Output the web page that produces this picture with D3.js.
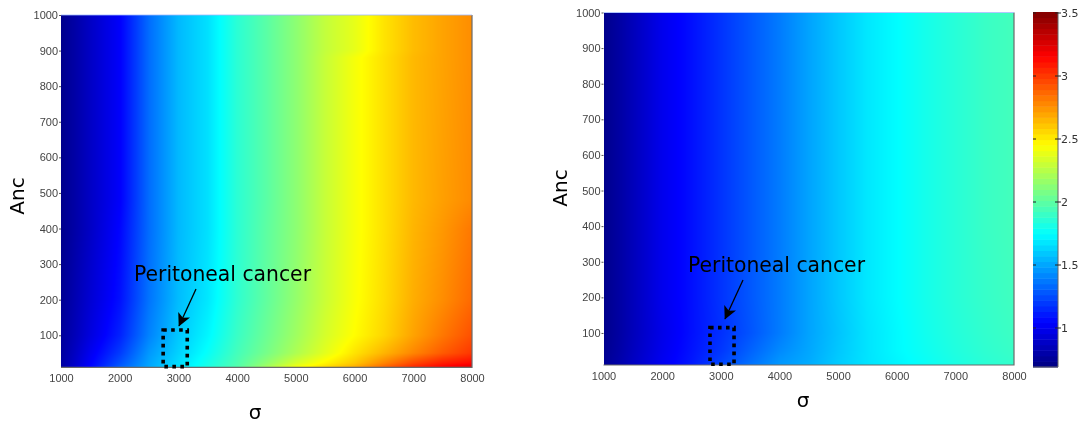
<!DOCTYPE html>
<html><head><meta charset="utf-8">
<script src="https://cdn.jsdelivr.net/npm/d3@7/dist/d3.min.js"></script>
<style>
html,body{margin:0;padding:0;background:#fff;overflow:hidden}
#wrap{position:relative;width:1079px;height:421px;overflow:hidden}
canvas,svg{position:absolute;left:0;top:0}
canvas{filter:blur(.5px)}
svg{filter:blur(.35px)}
</style></head><body><div id="wrap"></div>
<script>
const sigmaGrid=[1000,1250,1500,2000,2500,3000,3500,4000,4500,5000,5500,6000,6500,7000,7500,8000];
const ancGrid=[1000,900,880,480,400,200,100,50,22,10];
const leftValues=[
[.72,.80,.88,1.03,1.34,1.55,1.66,1.86,1.99,2.13,2.28,2.38,2.52,2.63,2.70,2.76],
[.72,.80,.88,1.03,1.34,1.55,1.66,1.86,1.99,2.13,2.28,2.38,2.52,2.63,2.70,2.76],
[.72,.80,.88,1.03,1.34,1.55,1.66,1.86,1.99,2.13,2.29,2.42,2.53,2.64,2.70,2.76],
[.72,.80,.88,1.03,1.34,1.55,1.66,1.86,1.99,2.13,2.29,2.42,2.53,2.64,2.71,2.77],
[.72,.80,.88,1.05,1.34,1.55,1.66,1.86,2.00,2.13,2.29,2.42,2.53,2.65,2.73,2.82],
[.74,.83,.92,1.08,1.36,1.56,1.68,1.87,2.01,2.15,2.30,2.43,2.54,2.67,2.76,2.86],
[.76,.85,.95,1.13,1.40,1.59,1.72,1.90,2.04,2.18,2.33,2.45,2.56,2.70,2.82,2.93],
[.77,.88,1.00,1.20,1.46,1.62,1.76,1.93,2.07,2.22,2.37,2.52,2.65,2.78,2.90,3.00],
[.78,.90,1.03,1.26,1.49,1.65,1.80,1.96,2.14,2.33,2.47,2.60,2.78,2.95,3.07,3.13],
[.78,.92,1.05,1.30,1.50,1.66,1.82,1.97,2.20,2.42,2.55,2.68,2.88,3.05,3.16,3.25]];
const rightValues=[
[.72,.78,.85,.99,1.08,1.18,1.28,1.38,1.49,1.59,1.68,1.74,1.80,1.85,1.90,1.93],
[.72,.78,.85,.99,1.08,1.18,1.28,1.38,1.49,1.59,1.68,1.74,1.80,1.85,1.90,1.93],
[.72,.78,.85,.99,1.08,1.18,1.28,1.38,1.49,1.59,1.68,1.74,1.80,1.85,1.90,1.93],
[.72,.78,.85,.99,1.08,1.18,1.28,1.38,1.49,1.59,1.68,1.74,1.80,1.85,1.90,1.93],
[.72,.78,.85,.99,1.08,1.18,1.28,1.38,1.49,1.59,1.68,1.74,1.80,1.85,1.90,1.93],
[.72,.78,.85,.99,1.08,1.18,1.28,1.38,1.49,1.59,1.68,1.74,1.80,1.85,1.89,1.92],
[.72,.78,.85,.98,1.08,1.17,1.27,1.38,1.49,1.58,1.67,1.73,1.79,1.84,1.88,1.91],
[.73,.79,.86,.99,1.09,1.19,1.31,1.42,1.50,1.59,1.67,1.73,1.78,1.83,1.87,1.90],
[.74,.80,.87,1.00,1.10,1.22,1.34,1.45,1.51,1.60,1.67,1.72,1.77,1.82,1.86,1.89],
[.74,.80,.87,1.00,1.11,1.24,1.36,1.46,1.52,1.60,1.67,1.72,1.77,1.82,1.86,1.88]];
const sigmaTicks=[1000,2000,3000,4000,5000,6000,7000,8000];
const ancTicks=[100,200,300,400,500,600,700,800,900,1000];
const barTicks=[1,1.5,2,2.5,3,3.5];
const barDomain=[0.69,3.5];
const annotation="Peritoneal cancer";
const boxLeft=[2740,3150];
const boxRight=[2816,3226];
const boxAnc=[12,115];

const W=1079,H=421;
const t=v=>(v-barDomain[0])/(barDomain[1]-barDomain[0]);
const jet=d3.scaleLinear()
 .domain([0,.125,.375,.625,.875,1])
 .range(["#000080","#0000ff","#00ffff","#ffff00","#ff0000","#800000"])
 .clamp(true);
const colour=v=>jet(t(v));

const canvas=d3.select("#wrap").append("canvas").attr("width",W).attr("height",H).node();
const ctx=canvas.getContext("2d");
const svg=d3.select("#wrap").append("svg").attr("width",W).attr("height",H);
svg.append("defs").append("marker").attr("id","ah").attr("viewBox","0 0 10 10")
 .attr("refX",9.5).attr("refY",5).attr("markerWidth",15).attr("markerHeight",13)
 .attr("markerUnits","userSpaceOnUse").attr("orient","auto")
 .append("path").attr("d","M0,0L10,5L0,10L2.5,5Z").attr("fill","#000");

function panel(cfg){
 const x=d3.scaleLinear([1000,8000],[cfg.x0,cfg.x1]);
 const y=d3.scaleLinear([10,1000],[cfg.y0,cfg.y1]);
 const cols=sigmaGrid.map((_,j)=>d3.scaleLinear(ancGrid,cfg.values.map(r=>r[j])));
 for(let py=Math.ceil(cfg.y1);py<cfg.y0;py++){
  const a=y.invert(py+.5);
  const row=d3.scaleLinear(sigmaGrid,cols.map(c=>c(a)));
  for(let px=Math.round(cfg.x0);px<cfg.x1;px++){
   ctx.fillStyle=colour(row(x.invert(px+.5)));
   ctx.fillRect(px,py,1,1);
  }
 }
 const g=svg.append("g");
 g.append("path").attr("d",`M${cfg.x0},${cfg.y0}H${cfg.x1}V${cfg.y1}`)
  .attr("fill","none").attr("stroke","#6a6a6a").attr("stroke-width",1.2);
 g.append("path").attr("d",`M${cfg.x0},${cfg.y1}H${cfg.x1}`).attr("stroke","#9db8ff").attr("stroke-width",.8);
 const ax=g.append("g").attr("transform",`translate(0,${cfg.y0})`)
  .call(d3.axisBottom(x).tickValues(sigmaTicks).tickSize(0).tickPadding(cfg.xPad).tickFormat(d3.format("d")));
 ax.select(".domain").remove();
 const ay=g.append("g").attr("transform",`translate(${cfg.x0},0)`)
  .call(d3.axisLeft(y).tickValues(ancTicks).tickSize(2).tickPadding(1).tickFormat(d3.format("d")));
 ay.select(".domain").remove();
 g.selectAll(".tick text").attr("font-family","Liberation Sans").attr("font-size",11).attr("fill","#444");
 g.selectAll(".tick line").attr("stroke","#555");
 g.append("text").attr("x",cfg.sigX).attr("y",cfg.sigY).attr("text-anchor","middle")
  .attr("font-family","DejaVu Sans").attr("font-size",20).text("σ");
 g.append("text").attr("transform",`translate(${cfg.ancX},${cfg.ancY}) rotate(-90)`).attr("text-anchor","middle")
  .attr("font-family","DejaVu Sans").attr("font-size",20).text("Anc");
 g.append("text").attr("x",cfg.noteX).attr("y",cfg.noteY)
  .attr("font-family","DejaVu Sans").attr("font-size",21).attr("textLength",177).attr("lengthAdjust","spacingAndGlyphs").text(annotation);
 g.append("line").attr("x1",cfg.arrow[0]).attr("y1",cfg.arrow[1]).attr("x2",cfg.arrow[2]).attr("y2",cfg.arrow[3])
  .attr("stroke","#000").attr("stroke-width",1.3).attr("marker-end","url(#ah)");
 const bx=x(cfg.box[0]),bX=x(cfg.box[1]),by=y(boxAnc[1]),bY=y(boxAnc[0]);
 g.append("rect").attr("x",bx).attr("y",by).attr("width",bX-bx).attr("height",bY-by)
  .attr("fill","none").attr("stroke","#000").attr("stroke-width",3.6).attr("stroke-dasharray","3.6 4.4");
}
panel({values:leftValues,box:boxLeft,x0:61,x1:472,y0:367.3,y1:15,xPad:7,sigX:255,sigY:419,ancX:24,ancY:196,
 noteX:134,noteY:281,arrow:[196,289,179,326]});
panel({values:rightValues,box:boxRight,x0:603.5,x1:1014,y0:365,y1:12.5,xPad:7,sigX:803,sigY:407,ancX:567,ancY:188,
 noteX:688,noteY:272,arrow:[743,280,725,319]});

const by=d3.scaleLinear([1,3.5],[328,13]);
const nSteps=64, barX=1033, barW=25, barTop=12, barBot=367;
d3.range(nSteps).forEach(i=>{
 const v0=barDomain[0]+(barDomain[1]-barDomain[0])*i/nSteps;
 const v1=barDomain[0]+(barDomain[1]-barDomain[0])*(i+1)/nSteps;
 const py1=barBot+(barTop-barBot)*(i+1)/nSteps, py0=barBot+(barTop-barBot)*i/nSteps;
 ctx.fillStyle=colour((v0+v1)/2);
 ctx.fillRect(barX,py1,barW,py0-py1+.5);
});
const bar=svg.append("g");
bar.append("path").attr("d",`M${barX+barW},${barTop}V${barBot}H${barX}`)
 .attr("fill","none").attr("stroke","#666").attr("stroke-width",1);
const bt=bar.selectAll("g").data(barTicks).join("g").attr("transform",d=>`translate(0,${by(d)})`);
bt.append("line").attr("x1",barX).attr("x2",barX+3).attr("stroke","#222");
bt.append("line").attr("x1",barX+barW-3).attr("x2",barX+barW+3).attr("stroke","#222");
bt.append("text").attr("x",barX+barW+3).attr("dy","0.35em").attr("font-family","DejaVu Sans")
 .attr("font-size",11).attr("fill","#333")
 .text(d=>String(d));
</script></body></html>
